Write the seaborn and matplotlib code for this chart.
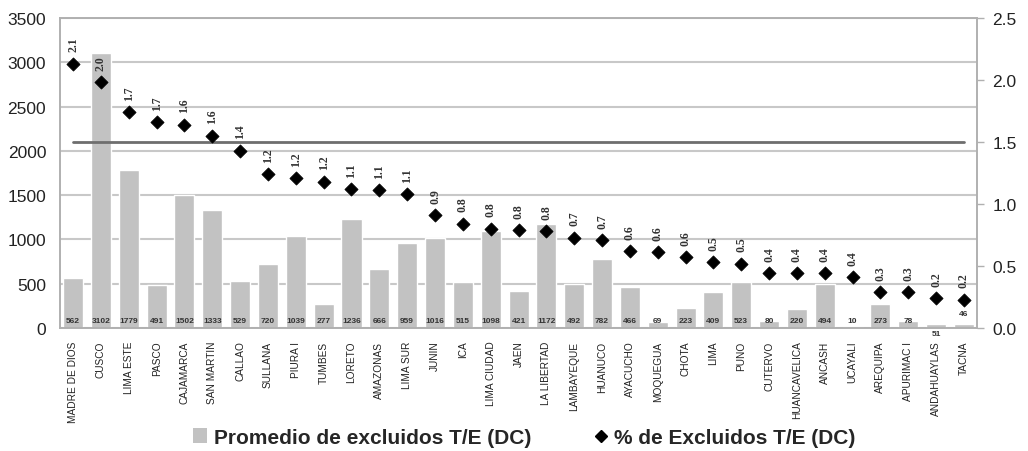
import numpy as np
import pandas as pd
import matplotlib
matplotlib.use("Agg")
import matplotlib.pyplot as plt
import seaborn as sns
from matplotlib.lines import Line2D
from matplotlib.patches import Patch

# Datos
categorias = ["MADRE DE DIOS", "CUSCO", "LIMA ESTE", "PASCO", "CAJAMARCA", "SAN MARTIN",
              "CALLAO", "SULLANA", "PIURA I", "TUMBES", "LORETO", "AMAZONAS", "LIMA SUR",
              "JUNIN", "ICA", "LIMA CIUDAD", "JAEN", "LA LIBERTAD", "LAMBAYEQUE", "HUANUCO",
              "AYACUCHO", "MOQUEGUA", "CHOTA", "LIMA", "PUNO", "CUTERVO", "HUANCAVELICA",
              "ANCASH", "UCAYALI", "AREQUIPA", "APURIMAC I", "ANDAHUAYLAS", "TACNA"]
promedio = [562, 3102, 1779, 491, 1502, 1333, 529, 720, 1039, 277, 1236, 666, 959,
            1016, 515, 1098, 421, 1172, 492, 782, 466, 69, 223, 409, 523, 80, 220,
            494, 10, 273, 78, 51, 46]
porcentaje = [2.13, 1.98, 1.74, 1.66, 1.64, 1.55, 1.43, 1.24, 1.21, 1.18, 1.12, 1.11, 1.08,
              0.91, 0.84, 0.80, 0.79, 0.78, 0.73, 0.71, 0.62, 0.61, 0.57, 0.53, 0.52,
              0.44, 0.44, 0.44, 0.41, 0.29, 0.29, 0.24, 0.23]
referencia = 1.5

df = pd.DataFrame({"region": categorias, "promedio": promedio, "porcentaje": porcentaje})

sns.set_style("white")
plt.rcParams["font.family"] = ["Liberation Sans", "DejaVu Sans"]

fig = plt.figure(figsize=(10.28, 4.52), dpi=100)
ax = fig.add_axes([0.0584, 0.272, 0.892, 0.686])

sns.barplot(data=df, x="region", y="promedio", color="#c2c2c2", saturation=1,
            width=0.72, ax=ax, zorder=2)
ax.set_ylim(0, 3500)
ax.set_xlim(-0.47, len(categorias) - 0.53)
ax.set_yticks(np.arange(0, 3501, 500))
ax.yaxis.grid(True, color="#c8c8c8", linewidth=1.5, zorder=0)
ax.set_axisbelow(True)
ax.set_xlabel("")
ax.set_ylabel("")
ax.tick_params(axis="y", labelsize=12.5, length=0, pad=10, colors="#222222")
ax.tick_params(axis="x", length=0, pad=9)
ax.set_xticks(range(len(categorias)))
ax.set_xticklabels(categorias, rotation=90, fontsize=7.3, color="#222222")
for s in ax.spines.values():
    s.set_color("#b0b0b0")
    s.set_linewidth(1.2)

# etiquetas de barras
for i, v in enumerate(promedio):
    yy = -25 if categorias[i] == "ANDAHUAYLAS" else (130 if categorias[i] == "TACNA" else 45)
    ax.text(i, yy, str(v), ha="center", va="bottom" if yy > 0 else "top",
            fontsize=6, fontweight="bold", color="#333333", zorder=3)

ax2 = ax.twinx()
ax2.set_ylim(0, 2.5)
ax2.set_yticks(np.arange(0, 2.51, 0.5))
ax2.set_yticklabels([f"{t:.1f}" for t in np.arange(0, 2.51, 0.5)])
ax2.tick_params(axis="y", labelsize=12.5, length=5, width=1, color="#b0b0b0",
                pad=6, labelcolor="#222222")
for s in ax2.spines.values():
    s.set_color("#b0b0b0")
    s.set_linewidth(1.2)

x = np.arange(len(categorias))
ax2.plot([x[0], x[-1]], [referencia, referencia], color="#6e6e6e", linewidth=2, zorder=3)
sns.scatterplot(x=x, y=porcentaje, marker="D", color="black", s=45, edgecolor="black",
                ax=ax2, zorder=4, legend=False)
for i, v in enumerate(porcentaje):
    ax2.text(i, v + 0.1, f"{v:.1f}", rotation=90, ha="center", va="bottom",
             fontsize=8.5, fontweight="bold", family=["Liberation Serif", "DejaVu Serif"],
             color="#333333", zorder=5)
ax2.set_ylabel("")

handles = [Patch(facecolor="#c2c2c2", edgecolor="none"),
           Line2D([], [], marker="D", color="black", linestyle="none", markersize=6)]
fig.legend(handles, ["Promedio de excluidos T/E (DC)", "% de Excluidos T/E (DC)"],
           loc="center", bbox_to_anchor=(0.51, 0.03), ncol=2, frameon=False,
           prop={"size": 15, "weight": "bold"}, handlelength=0.7, handletextpad=0.3,
           columnspacing=3.0)

fig.savefig("out.png", dpi=100)
